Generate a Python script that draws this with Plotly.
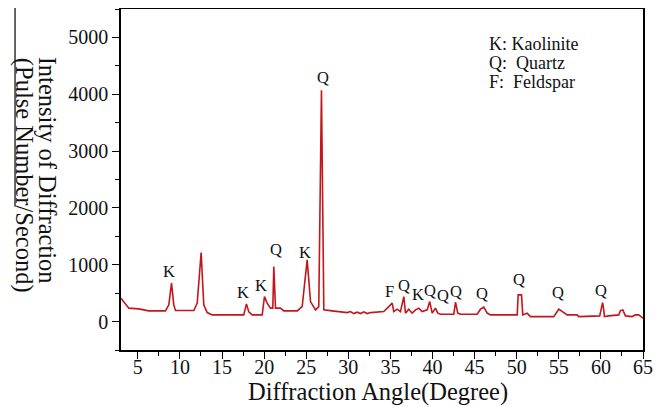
import plotly.graph_objects as go

# Diffraction pattern (2-theta in degrees, intensity in counts/s)
angle = [3.0, 3.93, 5.11, 6.30, 8.28, 8.68, 9.00, 9.27, 9.47, 11.65, 12.05, 12.52, 12.83, 13.24,
         13.83, 17.58, 17.90, 18.18, 18.58, 19.77, 20.04, 20.36, 20.75, 21.03, 21.15, 21.35,
         21.94, 22.34, 23.93, 24.52, 25.11, 25.51, 26.10, 26.49, 26.81, 27.09, 28.08, 29.87,
         30.26, 30.65, 31.05, 31.44, 31.84, 32.24, 32.63, 34.21, 34.81, 35.21, 35.40, 35.80,
         36.19, 36.59, 36.79, 37.18, 37.58, 37.98, 38.37, 38.77, 39.37, 39.67, 39.96, 40.35,
         40.62, 40.95, 42.53, 42.73, 43.00, 43.32, 45.30, 45.70, 46.09, 46.49, 46.88, 50.06,
         50.17, 50.57, 50.72, 51.24, 51.63, 54.40, 55.00, 55.59, 55.99, 57.18, 57.37, 59.86,
         60.07, 60.20, 60.30, 60.42, 60.93, 62.12, 62.32, 62.60, 62.92, 63.71, 64.10, 64.49, 65.0]
intensity = [410, 236, 224, 188, 188, 294, 676, 294, 194, 194, 324, 1215, 294, 158,
             118, 118, 312, 170, 118, 118, 440, 324, 236, 236, 968, 236,
             236, 188, 188, 264, 1086, 352, 206, 264, 4070, 206, 188, 158,
             176, 141, 165, 141, 171, 141, 158, 176, 264, 324, 176, 218,
             176, 440, 148, 218, 148, 206, 236, 176, 206, 352, 148, 236,
             148, 130, 130, 342, 150, 130, 130, 218, 253, 150, 118, 118,
             470, 470, 118, 148, 88, 88, 218, 150, 118, 118, 88, 100,
             264, 334, 250, 88, 100, 118, 194, 206, 100, 88, 118, 118, 60]

# Phase labels over the peaks
peak_labels = ["K", "K", "K", "Q", "K", "Q", "F", "Q", "K", "Q", "Q", "Q", "Q", "Q", "Q", "Q"]
label_angle = [8.65, 17.45, 19.6, 21.35, 24.9, 27.05, 34.9, 36.6, 38.3, 39.75, 41.25, 42.8, 45.9, 50.3, 54.9, 60.0]
label_height = [875, 520, 640, 1270, 1210, 4290, 530, 640, 480, 555, 455, 530, 490, 740, 510, 545]

legend_lines = ["K: Kaolinite", "Q:  Quartz", "F:  Feldspar"]

y_title_lines = ["Intensity of Diffraction", "(Pulse Number/Second)"]
x_title = "Diffraction Angle(Degree)"

FONT = "Liberation Serif"
RED = "#c3161c"
INK = "#111111"

fig = go.Figure()
fig.add_trace(go.Scatter(x=angle, y=intensity, mode="lines",
                         line=dict(color=RED, width=1.6), showlegend=False,
                         hoverinfo="skip"))

for t, xa, ya in zip(peak_labels, label_angle, label_height):
    fig.add_annotation(x=xa, y=ya, text=t, showarrow=False,
                       font=dict(family=FONT, size=16.5, color=INK),
                       xanchor="center", yanchor="middle", borderpad=0)

for i, t in enumerate(legend_lines):
    fig.add_annotation(xref="paper", yref="paper", x=0.702, y=0.898 - i * 0.056,
                       text=t, showarrow=False, xanchor="left", yanchor="middle",
                       font=dict(family=FONT, size=18, color=INK))

# rotated y title (reads top to bottom), two lines
for t, xp, yp in zip(y_title_lines, [-0.1413, -0.186], [0.528, 0.511]):
    fig.add_annotation(xref="paper", yref="paper", x=xp, y=yp, text=t,
                       textangle=90, showarrow=False, xanchor="center", yanchor="middle",
                       font=dict(family=FONT, size=24.5, color=INK))

# x title
fig.add_annotation(xref="paper", yref="paper", x=0.492, y=-0.123, text=x_title,
                   showarrow=False, xanchor="center", yanchor="middle",
                   font=dict(family=FONT, size=24.5, color=INK))

# stray vertical rule seen at left edge of the image
fig.add_shape(type="line", xref="paper", yref="paper",
              x0=-0.203, x1=-0.203, y0=(350 - 8) / 340.7, y1=(350 - 207) / 340.7,
              line=dict(color="black", width=1.2))

axis_common = dict(showline=True, linecolor="black", linewidth=1.5, mirror=True,
                   ticks="outside", ticklen=7, tickwidth=1.3, tickcolor="black",
                   showgrid=False, zeroline=False,
                   tickfont=dict(family=FONT, size=20, color=INK),
                   minor=dict(ticks="outside", ticklen=4, tickwidth=1.1, tickcolor="black"))

fig.update_xaxes(range=[3, 65], tickvals=list(range(5, 66, 5)),
                 minor_dtick=2.5, minor_tick0=2.5, ticklabelstandoff=-9, **axis_common)
fig.update_yaxes(range=[-500, 5500], tickvals=list(range(0, 5001, 1000)),
                 minor_dtick=500, minor_tick0=0, **axis_common)

# the page body adds an 8px offset, so the figure is sized 8px smaller
fig.update_layout(width=654, height=399, plot_bgcolor="white", paper_bgcolor="white",
                  margin=dict(l=112.5, r=19.3, t=1.3, b=57, autoexpand=False),
                  font=dict(family=FONT))

fig.write_html("out.html")
